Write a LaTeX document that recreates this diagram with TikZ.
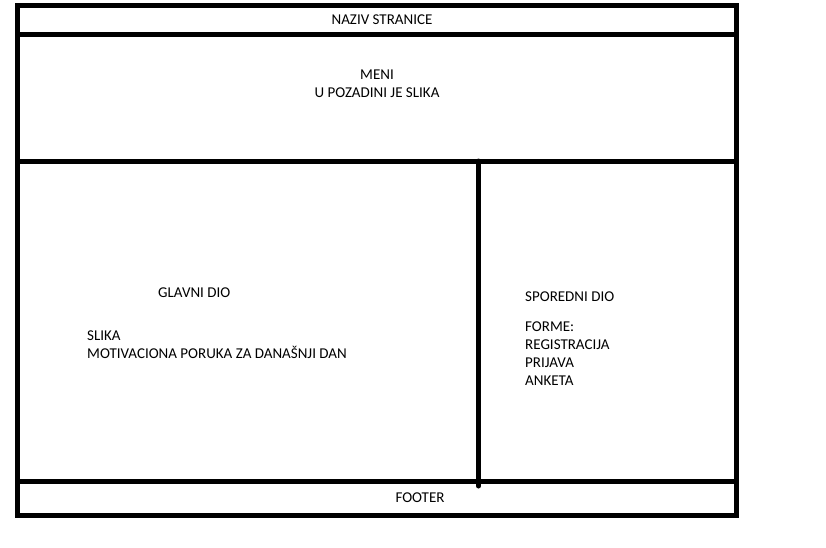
\documentclass[tikz,border=0pt]{standalone}
\usepackage{fontspec}
\setmainfont{Carlito}
\usetikzlibrary{positioning}

\begin{document}
\begin{tikzpicture}[
  x=1pt,y=-1pt,
  frame/.style={line width=5pt,line cap=rect},
  label/.style={inner sep=0pt,font=\fontsize{15}{18}\selectfont},
  txt/.style={label,anchor=west,align=left}
]
  \useasboundingbox (0,0) rectangle (826,547);
  % okvir stranice
  \draw[frame] (17.5,5.5) rectangle (736.5,515);
  \draw[frame] (17.5,34) -- (736.5,34);
  \draw[frame] (17.5,161) -- (736.5,161);
  \draw[frame] (17.5,481.5) -- (736.5,481.5);
  \draw[frame,line cap=round] (478.5,161) -- (478.5,486);
  % tekstovi
  \node[label] (naziv) at (382,20) {NAZIV STRANICE};
  \node[label,align=center] (meni) at (377,84) {MENI\\U POZADINI JE SLIKA};
  \node[txt] (glavni) at (158,293) {GLAVNI DIO};
  \node[txt] (slika) at (87,345) {SLIKA\\MOTIVACIONA PORUKA ZA DANAŠNJI DAN};
  \node[txt] (sporedni) at (525,297) {SPOREDNI DIO};
  \node[txt] (forme) at (525,354) {FORME:\\REGISTRACIJA\\PRIJAVA\\ANKETA};
  \node[label] (footer) at (420,498) {FOOTER};
\end{tikzpicture}
\end{document}
